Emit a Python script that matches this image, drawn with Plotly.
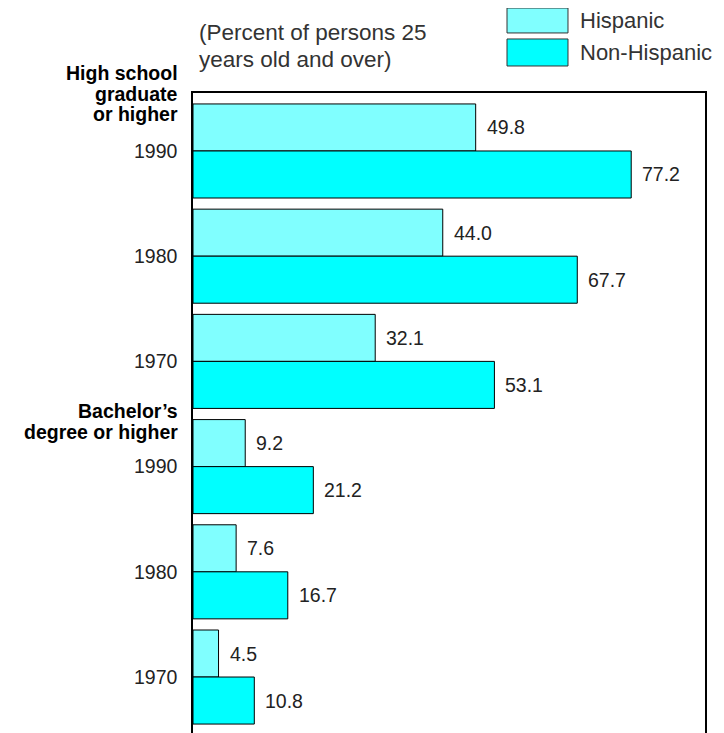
import plotly.graph_objects as go

# data
pos = [0, 1, 2, 3, 4, 5]
years = ['1990', '1980', '1970', '1990', '1980', '1970']
hispanic = [49.8, 44.0, 32.1, 9.2, 7.6, 4.5]
non_hispanic = [77.2, 67.7, 53.1, 21.2, 16.7, 10.8]
series_names = ['Hispanic', 'Non-Hispanic']
colors = ['#80FFFF', '#00FFFF']
headings = [['High school', 'graduate', 'or higher'],
            ['Bachelor\u2019s', 'degree or higher']]
subtitle = ['(Percent of persons 25', 'years old and over)']

font = 'Liberation Sans, Arial, Helvetica, sans-serif'

fig = go.Figure()
for name, vals, col in zip(series_names, [hispanic, non_hispanic], colors):
    fig.add_trace(go.Bar(
        y=pos, x=vals, name=name, orientation='h',
        marker=dict(color=col, line=dict(color='black', width=1)),
        showlegend=False,
    ))

# value labels to the right of each bar
off = [-0.2235, 0.2235]
for k, vals in enumerate([hispanic, non_hispanic]):
    for p, v in zip(pos, vals):
        fig.add_annotation(x=v, y=p + off[k], text='%.1f' % v, showarrow=False,
                           xanchor='left', xshift=9, yanchor='middle',
                           font=dict(size=19.5, color='#222'))

# section headings, one line per annotation for tight leading
head_y = [[1.031, 0.998, 0.967], [0.503, 0.470]]
for lines, ys in zip(headings, head_y):
    for line, yy in zip(lines, ys):
        fig.add_annotation(xref='paper', yref='paper', x=-0.0254, y=yy,
                           xanchor='right', yanchor='middle', showarrow=False,
                           text='<b>%s</b>' % line,
                           font=dict(size=19.5, color='black'))

# subtitle
for line, yy in zip(subtitle, [1.0945, 1.0525]):
    fig.add_annotation(xref='paper', yref='paper', x=0.008, y=yy,
                       xanchor='left', yanchor='middle', showarrow=False,
                       text=line, font=dict(size=22.5, color='#333'))

# legend drawn as boxes
box_y = [(1.0938, 1.1328), (1.0422, 1.0844)]
for name, col, (y0, y1) in zip(series_names, colors, box_y):
    fig.add_shape(type='rect', xref='paper', yref='paper',
                  x0=0.6133, x1=0.7324, y0=y0, y1=y1,
                  fillcolor=col, line=dict(color='#333', width=1))
    fig.add_annotation(xref='paper', yref='paper', x=0.752, y=(y0 + y1) / 2,
                       xanchor='left', yanchor='middle', showarrow=False,
                       text=name, font=dict(size=22, color='#333'))

fig.update_layout(
    width=716, height=725,
    margin=dict(l=185, r=19, t=85, b=0),
    plot_bgcolor='white', paper_bgcolor='white',
    font=dict(family=font, size=19.5, color='#222'),
    barmode='group', bargap=0.106, bargroupgap=0,
    xaxis=dict(range=[0, 90.2], side='top', showline=True, linecolor='black',
               linewidth=1.5, showticklabels=False, ticks='', showgrid=False,
               zeroline=False),
    yaxis=dict(range=[5.532, -0.551], tickvals=pos, ticktext=years, ticks='',
               showline=True, linecolor='black', linewidth=1.5, mirror=True,
               showgrid=False, zeroline=False, ticklabelstandoff=10,
               tickfont=dict(size=19.5, color='#222')),
)

fig.write_html('out.html')
